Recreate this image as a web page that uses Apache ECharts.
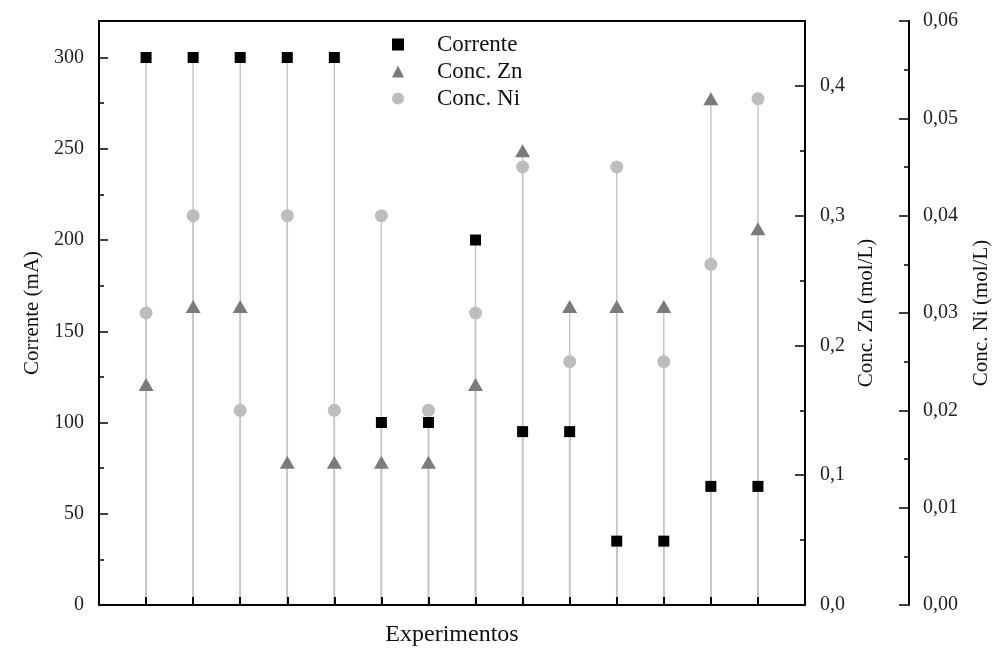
<!DOCTYPE html>
<html>
<head>
<meta charset="utf-8">
<script src="https://cdn.jsdelivr.net/npm/echarts@6/dist/echarts.min.js"></script>
<style>
html,body{margin:0;padding:0;background:#fff;}
#chart{width:999px;height:651px;}
</style>
</head>
<body>
<div id="chart"></div>
<script>
// ---- data ----
const experiments = [1,2,3,4,5,6,7,8,9,10,11,12,13,14];
const corrente = [300,300,300,300,300,100,100,200,95,95,35,35,65,65];
const concZn = [0.17,0.23,0.23,0.11,0.11,0.11,0.11,0.17,0.35,0.23,0.23,0.23,0.39,0.29];
const concNi = [0.03,0.04,0.02,0.04,0.02,0.04,0.02,0.03,0.045,0.025,0.045,0.025,0.035,0.052];

const correnteTicks = [0,50,100,150,200,250,300];
const correnteMinor = [25,75,125,175,225,275];
const znTicks = [0,0.1,0.2,0.3,0.4];
const znMinor = [0.05,0.15,0.25,0.35];
const niTicks = [0,0.01,0.02,0.03,0.04,0.05,0.06];
const niMinor = [0.005,0.015,0.025,0.035,0.045,0.055];

const FONT = "'Liberation Serif','Times New Roman',serif";
const pair = (xs, ys) => xs.map((x, i) => [x, ys[i]]);
const comma = d => v => v.toFixed(d).replace('.', ',');

function dropLine(params, api) {
  const x = api.value(0), y = api.value(1);
  const p0 = api.coord([x, 0]);
  const p1 = api.coord([x, y]);
  return {type: 'line', shape: {x1: p0[0], y1: p0[1], x2: p1[0], y2: p1[1]},
          style: {stroke: '#c6c6c6', lineWidth: 1.5}};
}

const axisLine = {show: true, onZero: false, lineStyle: {color: '#000', width: 2}};
const tickStyle = {color: '#000', width: 1.5};
const labelStyle = {fontFamily: FONT, fontSize: 20, color: '#222'};
function yMajor(opts) {
  return Object.assign({
    type: 'value', splitLine: {show: false}, axisLine: axisLine, z: 10,
    nameLocation: 'middle', nameRotate: 90,
    nameTextStyle: {fontFamily: FONT, fontSize: 21, color: '#111'}
  }, opts);
}
function yMinor(opts) {
  return Object.assign({
    type: 'value', splitLine: {show: false}, axisLine: {show: false, onZero: false},
    axisLabel: {show: false}, z: 10
  }, opts);
}

const chart = echarts.init(document.getElementById('chart'));
chart.setOption({
  backgroundColor: '#fff',
  animation: false,
  grid: {left: 99, right: 194, top: 21, bottom: 46, containLabel: false, outerBoundsMode: 'none'},
  legend: {
    orient: 'vertical', left: 387, top: 28, itemGap: 4,
    itemWidth: 12, itemHeight: 12,
    textStyle: {fontFamily: FONT, fontSize: 23, color: '#111', lineHeight: 23, padding: [0, 0, 0, 28]},
    data: [
      {name: 'Corrente', icon: 'rect'},
      {name: 'Conc. Zn', icon: 'triangle'},
      {name: 'Conc. Ni', icon: 'circle'}
    ]
  },
  xAxis: [
    {
      type: 'value', min: 0, max: 15, interval: 1, z: 10,
      name: 'Experimentos', nameLocation: 'middle', nameGap: 18,
      nameTextStyle: {fontFamily: FONT, fontSize: 24, color: '#111'},
      axisLine: axisLine, splitLine: {show: false},
      axisTick: {inside: true, length: 8, customValues: experiments, lineStyle: {color: '#000', width: 2}},
      axisLabel: {show: false}
    },
    {
      type: 'value', min: 0, max: 15, position: 'top', z: 10,
      axisLine: axisLine, axisTick: {show: false}, axisLabel: {show: false}, splitLine: {show: false}
    }
  ],
  yAxis: [
    yMajor({
      position: 'left', min: 0, max: 320, name: 'Corrente (mA)', nameGap: 56,
      axisTick: {inside: true, length: 9, customValues: correnteTicks, lineStyle: tickStyle},
      axisLabel: Object.assign({margin: 15, customValues: correnteTicks}, labelStyle)
    }),
    yMajor({
      position: 'right', min: 0, max: 0.45, name: 'Conc. Zn (mol/L)', nameGap: 40,
      axisTick: {inside: true, length: 10, customValues: znTicks, lineStyle: tickStyle},
      axisLabel: Object.assign({margin: 15, customValues: znTicks, formatter: comma(1)}, labelStyle)
    }),
    yMajor({
      position: 'right', offset: 104, min: 0, max: 0.06, name: 'Conc. Ni (mol/L)', nameGap: 62,
      axisTick: {inside: true, length: 10, customValues: niTicks, lineStyle: tickStyle},
      axisLabel: Object.assign({margin: 14, customValues: niTicks, formatter: comma(2)}, labelStyle)
    }),
    yMinor({position: 'left', min: 0, max: 320,
      axisTick: {inside: true, length: 5, customValues: correnteMinor, lineStyle: tickStyle}}),
    yMinor({position: 'right', min: 0, max: 0.45,
      axisTick: {inside: true, length: 5, customValues: znMinor, lineStyle: tickStyle}}),
    yMinor({position: 'right', offset: 104, min: 0, max: 0.06,
      axisTick: {inside: true, length: 5, customValues: niMinor, lineStyle: tickStyle}})
  ],
  series: [
    {type: 'custom', name: 'dropCorrente', yAxisIndex: 0, z: 1, data: pair(experiments, corrente), renderItem: dropLine, encode: {x: 0, y: 1}, silent: true},
    {type: 'custom', name: 'dropZn', yAxisIndex: 1, z: 1, data: pair(experiments, concZn), renderItem: dropLine, encode: {x: 0, y: 1}, silent: true},
    {type: 'custom', name: 'dropNi', yAxisIndex: 2, z: 1, data: pair(experiments, concNi), renderItem: dropLine, encode: {x: 0, y: 1}, silent: true},
    {type: 'scatter', name: 'Conc. Ni', yAxisIndex: 2, z: 2, symbol: 'circle', symbolSize: 13,
      itemStyle: {color: '#bdbdbd', opacity: 1}, data: pair(experiments, concNi)},
    {type: 'scatter', name: 'Conc. Zn', yAxisIndex: 1, z: 3, symbol: 'triangle', symbolSize: [15, 13],
      itemStyle: {color: '#7b7b7b', opacity: 1}, data: pair(experiments, concZn)},
    {type: 'scatter', name: 'Corrente', yAxisIndex: 0, z: 4, symbol: 'rect', symbolSize: 11,
      itemStyle: {color: '#000', opacity: 1}, data: pair(experiments, corrente)}
  ]
});
</script>
</body>
</html>
